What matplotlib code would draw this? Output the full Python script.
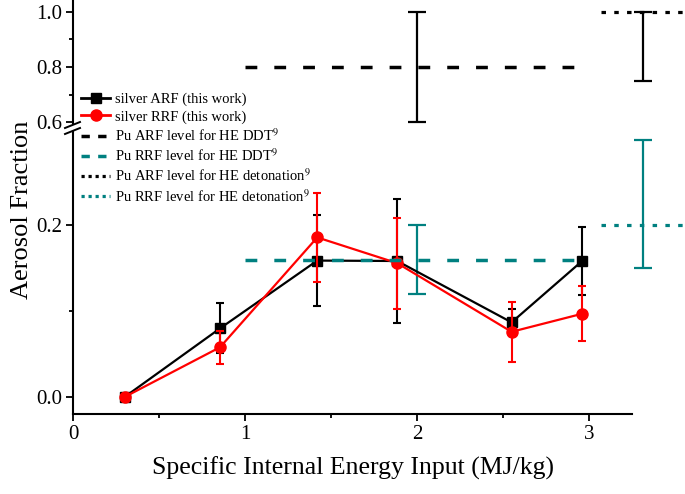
import matplotlib
matplotlib.use('Agg')
from matplotlib import pyplot as plt
from matplotlib.lines import Line2D

plt.rcParams['font.family'] = ['Liberation Serif', 'DejaVu Serif']
plt.rcParams['mathtext.fontset'] = 'stix'

# measured data (silver)
energy = [0.30, 0.855, 1.42, 1.885, 2.55, 2.96]
arf = [0.0, 0.080, 0.159, 0.1585, 0.087, 0.1585]
arf_err = [0.002, 0.029, 0.053, 0.072, 0.016, 0.040]
rrf = [0.0, 0.058, 0.186, 0.156, 0.076, 0.097]
rrf_err = [0.002, 0.019, 0.052, 0.053, 0.035, 0.032]

# Pu reference levels
ddt_x = [1.0, 2.95]
ddt_err_x = 2.0
arf_ddt, arf_ddt_err = 0.8, 0.2
rrf_ddt, rrf_ddt_err = 0.16, 0.04
det_x = [3.07, 3.56]
det_err_x = 3.316
arf_det, arf_det_lo = 1.0, 0.25
rrf_det, rrf_det_lo, rrf_det_hi = 0.2, 0.05, 0.10

W, H = 685, 494
teal = '#008080'


def fx(px):
    return px / W


def fy(py):
    return 1 - py / H


fig = plt.figure(figsize=(W / 100, H / 100), dpi=100)
ax_b = fig.add_axes([fx(73), fy(414), fx(685) - fx(73), (414 - 126) / H])
ax_t = fig.add_axes([fx(73), fy(126), fx(685) - fx(73), 126 / H])

xmax = (685 - 73) / 172.0
for ax in (ax_b, ax_t):
    ax.set_xlim(0, xmax)
    ax.patch.set_alpha(0)
    ax.spines['top'].set_visible(False)
    ax.spines['right'].set_visible(False)
    ax.spines['left'].set_linewidth(1.5)
    ax.spines['bottom'].set_linewidth(1.5)
    ax.tick_params(which='major', direction='out', length=5, width=1.3,
                   labelsize=15, pad=3)
    ax.tick_params(which='minor', direction='out', length=3, width=1.3)

ylo_b, yhi_b = -17 / 858.0, 288 / 858.0 - 17 / 858.0
ax_b.set_ylim(ylo_b, yhi_b)
ylo_t, yhi_t = 1.0 - 114 / 275.0, 1.0 + 12 / 275.0
ax_t.set_ylim(ylo_t, yhi_t)

ax_b.spines['bottom'].set_bounds(0, 3.25)
ax_b.spines['left'].set_bounds(ylo_b, yhi_b - 6 / 858.0)
ax_t.spines['left'].set_bounds(0.6 - 1 / 275.0, yhi_t)
ax_t.spines['bottom'].set_visible(False)
ax_t.tick_params(axis='x', which='both', bottom=False, labelbottom=False)

ax_b.set_xticks([0, 1, 2, 3])
ax_b.set_xticklabels(['0', '1', '2', '3'])
ax_b.set_xticks([0.5, 1.5, 2.5], minor=True)
ax_b.set_yticks([0.0, 0.2])
ax_b.set_yticklabels(['0.0', '0.2'])
ax_b.set_yticks([0.1], minor=True)
ax_t.set_yticks([0.6, 0.8, 1.0])
ax_t.set_yticklabels(['0.6', '0.8', '1.0'])
ax_t.set_yticks([0.7, 0.9], minor=True)

# reference levels
dash = (3.4, 4.9)
dot = (1.4, 2.6)
ax_t.plot(ddt_x, [arf_ddt, arf_ddt], color='black', lw=2.5, dashes=dash,
          clip_on=False)
ax_t.errorbar([ddt_err_x], [arf_ddt], yerr=[arf_ddt_err], fmt='none',
              ecolor='black', elinewidth=1.6, capsize=6.5, capthick=1.6)
ax_t.plot(det_x, [arf_det, arf_det], color='black', lw=2.3, dashes=dot,
          clip_on=False)
ax_t.errorbar([det_err_x], [arf_det], yerr=[[arf_det_lo], [0]], fmt='none',
              ecolor='black', elinewidth=1.6, capsize=6.5, capthick=1.6)

ax_b.plot(ddt_x, [rrf_ddt, rrf_ddt], color=teal, lw=2.5, dashes=dash, zorder=4)
ax_b.errorbar([ddt_err_x], [rrf_ddt], yerr=[rrf_ddt_err], fmt='none',
              ecolor=teal, elinewidth=1.6, capsize=6.5, capthick=1.6)
ax_b.plot(det_x, [rrf_det, rrf_det], color=teal, lw=2.3, dashes=dot,
          clip_on=False)
ax_b.errorbar([det_err_x], [rrf_det], yerr=[[rrf_det_lo], [rrf_det_hi]],
              fmt='none', ecolor=teal, elinewidth=1.6, capsize=6.5,
              capthick=1.6, clip_on=False)

# silver data
ax_b.errorbar(energy, arf, yerr=arf_err, color='black', lw=1.6, marker='s',
              ms=7, elinewidth=1.5, capsize=3.2, capthick=1.5, zorder=3)
ax_b.errorbar(energy, rrf, yerr=rrf_err, color='red', lw=1.6, marker='o',
              ms=8, elinewidth=1.5, capsize=3.2, capthick=1.5, zorder=3.5)

# axis break marks
for y0 in (128, 134):
    fig.add_artist(Line2D([fx(65), fx(80)], [fy(y0), fy(y0 - 6)],
                          color='black', lw=1.4))

fig.text(fx(22), fy(210), 'Aerosol Fraction', rotation=90, fontsize=19,
         ha='center', va='center')
fig.text(fx(353), fy(468), 'Specific Internal Energy Input (MJ/kg)',
         fontsize=18.5, ha='center', va='center')

handles = [
    Line2D([], [], color='black', lw=2, marker='s', ms=7),
    Line2D([], [], color='red', lw=2, marker='o', ms=8),
    Line2D([], [], color='black', lw=2.5, dashes=(2.4, 2.4)),
    Line2D([], [], color=teal, lw=2.5, dashes=(2.4, 2.4)),
    Line2D([], [], color='black', lw=2.3, dashes=(1.0, 1.2)),
    Line2D([], [], color=teal, lw=2.3, dashes=(1.0, 1.2)),
]
labels = [
    'silver ARF (this work)',
    'silver RRF (this work)',
    'Pu ARF level for HE DDT$^9$',
    'Pu RRF level for HE DDT$^9$',
    'Pu ARF level for HE detonation$^9$',
    'Pu RRF level for HE detonation$^9$',
]
fig.legend(handles, labels, loc='upper left', bbox_to_anchor=(fx(81), fy(93)),
           frameon=False, fontsize=10.5, borderpad=0, handlelength=2.0,
           handletextpad=0.3, labelspacing=0.25, borderaxespad=0)

plt.savefig('out.png', dpi=100)
